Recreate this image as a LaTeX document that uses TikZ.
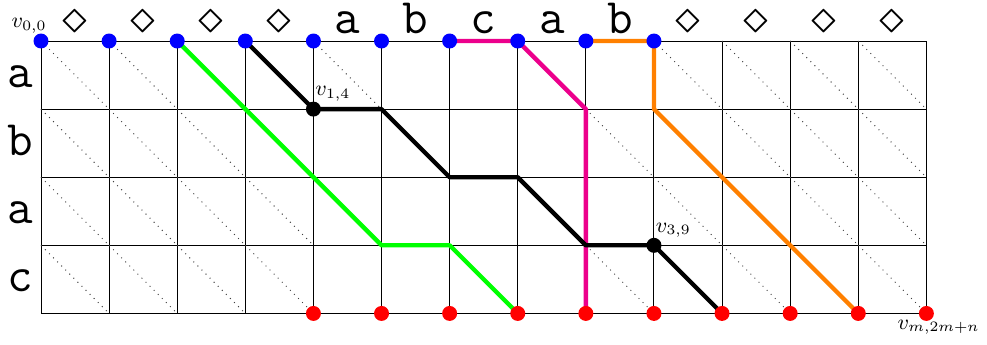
\documentclass[tikz,border=0pt]{standalone}
\usepackage{amsmath}
\usepackage{amssymb}
\usepackage{tikz}
\usetikzlibrary{calc,positioning}
\definecolor{pathpink}{RGB}{236,0,140}
\definecolor{pathorange}{RGB}{255,128,0}
\definecolor{pathgreen}{RGB}{0,255,0}
\tikzset{
    dot/.style={circle,fill,inner sep=0pt,minimum size=0.22cm},
    bluedot/.style={dot,fill=blue},
    reddot/.style={dot,fill=red},
    blackdot/.style={dot,fill=black},
    diag/.style={dotted,black!75},
    route/.style={line width=1.8pt,line join=round},
    letter/.style={font=\huge\ttfamily,inner sep=0pt},
    vlabel/.style={font=\small,inner sep=0pt}
}

\begin{document}
\begin{tikzpicture}[x=1cm,y=1cm]
        \useasboundingbox (-0.602,0.602) rectangle (13.89,-4.449);
        \foreach \r in {0,...,4}%所有格点
        {
            \foreach \c in {0,...,13}
            {
                \coordinate (v-\r-\c) at (\c,-\r);
            }
        }
        \draw (v-0-0) grid (v-4-13);%网格
        \foreach \c in {0,1,2,3,9,10,11,12}%虚线对角线
        {
            \foreach \r in {0,...,3}
            {
                \draw[diag] (v-\r-\c)--++(1,-1);
            }
        }
        \draw[diag] (v-0-4)--++(1,-1);
        \draw[diag] (v-1-8)--++(1,-1);
        \draw[diag] (v-3-8)--++(1,-1);
        \foreach \c/\t in {0/$\diamond$,1/$\diamond$,2/$\diamond$,3/$\diamond$,4/a,5/b,6/c,7/a,8/b,9/$\diamond$,10/$\diamond$,11/$\diamond$,12/$\diamond$}%上方字符
        {
            \node[letter,anchor=base] (top-\c) at (\c+0.5,0.11) {\t};
        }
        \foreach \r/\t in {0/a,1/b,2/a,3/c}%左侧字符
        {
            \node[letter,anchor=base] (left-\r) at (-0.3,-\r-0.68) {\t};
        }
        %路径
        \draw[route,pathgreen] (v-0-2)--(v-3-5)--(v-3-6)--(v-4-7);
        \draw[route,pathpink] (v-0-6)--(v-0-7)--(v-1-8)--(v-4-8);
        \draw[route,pathorange] (v-0-8)--(v-0-9)--(v-1-9)--(v-4-12);
        \draw[route,black] (v-0-3)--(v-1-4)--(v-1-5)--(v-2-6)--(v-2-7)--(v-3-8)--(v-3-9)--(v-4-10);
        \foreach \c in {0,...,9}%起点
        {
            \node[bluedot] (s-\c) at (v-0-\c) {};
        }
        \foreach \c in {4,...,13}%终点
        {
            \node[reddot] (t-\c) at (v-4-\c) {};
        }
        \node[blackdot] (p-1-4) at (v-1-4) {};
        \node[blackdot] (p-3-9) at (v-3-9) {};
        \node[vlabel,anchor=south east] (l-0-0) at ([xshift=0.09cm,yshift=0.11cm]v-0-0) {$v_{0,0}$};
        \node[vlabel,anchor=south west] (l-1-4) at ([xshift=0.02cm,yshift=0.11cm]v-1-4) {$v_{1,4}$};
        \node[vlabel,anchor=south west] (l-3-9) at ([xshift=0.02cm,yshift=0.11cm]v-3-9) {$v_{3,9}$};
        \node[vlabel,anchor=north] (l-m) at ([xshift=0.18cm,yshift=-0.09cm]v-4-13) {$v_{m,2m+n}$};
\end{tikzpicture}
\end{document}
